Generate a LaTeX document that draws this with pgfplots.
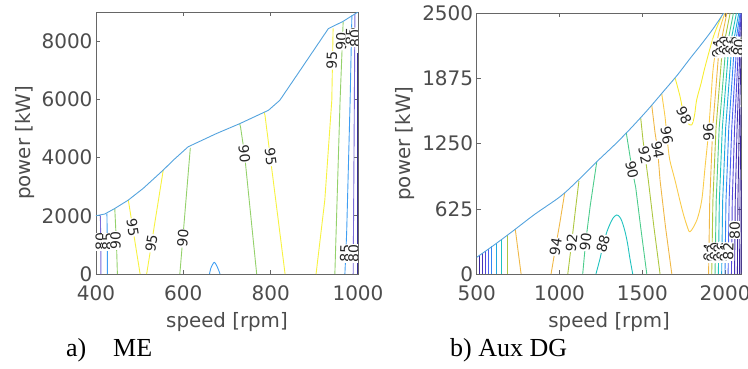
\documentclass[border=0pt]{standalone}
\usepackage{pgfplots}
\pgfplotsset{compat=1.18}
\usepackage{fontspec}
\setmainfont{DejaVu Sans}
\newfontfamily\capfont{Liberation Serif}
\definecolor{axgray}{rgb}{0.40,0.40,0.40}
\definecolor{txtgray}{rgb}{0.30,0.30,0.30}
\definecolor{bnd}{rgb}{0.33,0.64,0.87}
% left colours
\definecolor{c95}{rgb}{0.97,0.95,0.25}
\definecolor{c90}{rgb}{0.58,0.82,0.42}
\definecolor{c85}{rgb}{0.25,0.62,0.95}
\definecolor{c80}{rgb}{0.47,0.42,0.85}
\definecolor{c75}{rgb}{0.22,0.18,0.60}
% right colours
\definecolor{r98}{rgb}{0.97,0.93,0.20}
\definecolor{r96}{rgb}{0.98,0.80,0.30}
\definecolor{r94}{rgb}{0.94,0.72,0.28}
\definecolor{r92}{rgb}{0.68,0.78,0.25}
\definecolor{r90}{rgb}{0.30,0.80,0.55}
\definecolor{r88}{rgb}{0.12,0.76,0.75}
\definecolor{r86}{rgb}{0.12,0.66,0.88}
\definecolor{r84}{rgb}{0.20,0.52,0.96}
\definecolor{r82}{rgb}{0.30,0.38,0.95}
\definecolor{r80}{rgb}{0.32,0.28,0.85}
\definecolor{r78}{rgb}{0.28,0.20,0.72}
\definecolor{r76}{rgb}{0.24,0.15,0.62}
\pgfplotsset{
  mystyle/.style={
    scale only axis, anchor=south west,
    axis line style={draw=axgray, line width=0.8pt},
    tick style={draw=axgray, line width=0.6pt},
    tick align=inside, major tick length=4pt,
    ticklabel style={font=\fontsize{20}{22}\selectfont, text=txtgray},
    xticklabel style={yshift=-8pt},
    /pgf/number format/assume math mode=true,
    /pgf/number format/1000 sep={},
    label style={font=\fontsize{19.8}{22}\selectfont, text=txtgray},
    no markers,
    every axis plot/.append style={line width=0.9pt},
  },
}
\tikzset{clab/.style={font=\fontsize{14}{14}\selectfont, text=black!85, fill=white, inner sep=0.3pt}}
\begin{document}
\begin{tikzpicture}
\useasboundingbox (0pt,0pt) rectangle (748pt,368pt);
% ---------------- Left: ME ----------------
\begin{axis}[mystyle, at={(96pt,94pt)}, width=262pt, height=262pt,
  xmin=400, xmax=1000, ymin=0, ymax=9000,
  xtick={400,600,800,1000}, ytick={0,2000,4000,6000,8000},
  xlabel={speed [rpm]}, ylabel={power [kW]},
  xlabel style={at={(axis description cs:0.5,-0.206)}, anchor=base},
  ylabel style={at={(axis description cs:-0.271,0.5)}, anchor=center}]
\addplot[c80] coordinates {(411,0)(411,1000)(410,2010)};
\addplot[c85] coordinates {(426,0)(426,1000)(425,2070)};
\addplot[c90] coordinates {(449,0)(447,1000)(443,2250)};
\addplot[c95] coordinates {(501,0)(474,2540)};
\addplot[c95] coordinates {(516,0)(554,3570)};
\addplot[c90] coordinates {(592,0)(616,4330)};
\addplot[c85, smooth] coordinates {(660,0)(663,200)(671,400)(679,200)(684,0)};
\addplot[c90] coordinates {(729,5160)(731,5052)(740,4140)(768,0)};
\addplot[c95] coordinates {(785,5560)(787,5454)(833,0)};
\addplot[c95] coordinates {(904,0)(924,2540)(940,5970)(943,8440)};
\addplot[c90] coordinates {(947,0)(959,5970)(966,8660)};
\addplot[c85] coordinates {(970,0)(974,1400)(982,5970)(986,8880)};
\addplot[c80] coordinates {(989,0)(993,8940)};
\addplot[c75, line width=1.1pt] coordinates {(998.5,0)(998.5,7600)};
\addplot[bnd] coordinates {(400,2000)(420,2060)(443,2250)(474,2540)(508,2940)(554,3570)(577,3910)(611,4370)(676,4826)(730,5170)(795,5625)(821,5968)(867,6985)(932,8427)(966,8680)(1000,9000)};
\node[clab,rotate=90] at (axis cs:411,1100) {80};
\node[clab,rotate=90] at (axis cs:426,1100) {85};
\node[clab,rotate=90] at (axis cs:445,1150) {90};
\node[clab,rotate=-81] at (axis cs:484,1600) {95};
\node[clab,rotate=81] at (axis cs:527,1053) {95};
\node[clab,rotate=85] at (axis cs:599,1224) {90};
\node[clab,rotate=-84] at (axis cs:740,4140) {90};
\node[clab,rotate=-83] at (axis cs:800,4024) {95};
\node[clab,rotate=88] at (axis cs:940,7340) {95};
\node[clab,rotate=88] at (axis cs:962,8000) {90};
\node[clab,rotate=89] at (axis cs:984,8150) {85};
\node[clab,rotate=90] at (axis cs:994,8100) {80};
\node[clab,rotate=88] at (axis cs:971,700) {85};
\node[clab,rotate=90] at (axis cs:990,700) {80};
\end{axis}
% ---------------- Right: Aux DG ----------------
\begin{axis}[mystyle, at={(476.7pt,94pt)}, width=265pt, height=260.7pt,
  xmin=500, xmax=2100, ymin=0, ymax=2500,
  xtick={500,1000,1500,2000}, ytick={0,625,1250,1875,2500},
  xlabel={speed [rpm]}, ylabel={power [kW]},
  xlabel style={at={(axis description cs:0.5,-0.207)}, anchor=base},
  ylabel style={at={(axis description cs:-0.2706,0.5)}, anchor=center}]
\addplot[r76] coordinates {(516,0)(516,178)};
\addplot[r78] coordinates {(532,0)(532,197)};
\addplot[r80] coordinates {(552,0)(552,220)};
\addplot[r82] coordinates {(572,0)(572,243)};
\addplot[r84] coordinates {(592,0)(592,266)};
\addplot[r86] coordinates {(617,0)(617,294)};
\addplot[r88] coordinates {(647,0)(647,329)};
\addplot[r92] coordinates {(687,0)(687,375)};
\addplot[r94] coordinates {(768,0)(733,428)};
\addplot[r94] coordinates {(949,0)(977,262)(1003,500)(1031,775)};
\addplot[r92] coordinates {(1050,0)(1073,297)(1095,600)(1117,890)};
\addplot[r90] coordinates {(1140,0)(1158,310)(1185,650)(1225,1077)};
\addplot[r88, smooth] coordinates {(1220,0)(1245,150)(1263,278)(1285,400)(1305,480)(1325,540)(1345,566)(1362,550)(1377,505)(1395,410)(1410,300)(1425,150)(1442,0)};
\addplot[r90] coordinates {(1403,1355)(1426,1125)(1440,990)(1460,830)(1490,450)(1527,0)};
\addplot[r92] coordinates {(1490,1500)(1504,1285)(1516,1141)(1536,901)(1570,450)(1607,0)};
\addplot[r94] coordinates {(1557,1618)(1577,1352)(1592,1200)(1607,900)(1640,450)(1678,0)};
\addplot[r96, smooth] coordinates {(1617,1730)(1637,1508)(1650,1300)(1665,1100)(1697,901)(1740,620)(1770,460)(1789,406)(1830,520)(1859,710)(1879,1029)(1899,1349)(1915,1700)(1929,1988)(1960,2300)(1998,2500)};
\addplot[r98, smooth] coordinates {(1698,1880)(1728,1700)(1751,1520)(1772,1450)(1798,1429)(1815,1520)(1828,1669)(1855,1830)(1879,1988)(1930,2280)(1978,2470)};
\addplot[r94] coordinates {(1900,0)(1907,700)(1925,1400)(1960,2100)(2010,2500)};
\addplot[r92] coordinates {(1919,0)(1926,700)(1945,1400)(1980,2100)(2030,2500)};
\addplot[r90] coordinates {(1939,0)(1946,700)(1964,1400)(2000,2100)(2050,2500)};
\addplot[r88] coordinates {(1959,0)(1965,700)(1983,1400)(2018,2100)(2068,2500)};
\addplot[r86] coordinates {(1979,0)(1985,700)(2003,1400)(2036,2100)(2082,2500)};
\addplot[r84] coordinates {(1999,0)(2005,700)(2022,1400)(2052,2100)(2090,2500)};
\addplot[r82] coordinates {(2018,0)(2024,700)(2040,1400)(2066,2100)(2095,2500)};
\addplot[r80] coordinates {(2038,0)(2043,700)(2057,1400)(2078,2100)(2098,2500)};
\addplot[r78] coordinates {(2057,0)(2061,700)(2072,1400)(2088,2100)(2100,2450)};
\addplot[r76] coordinates {(2074,0)(2077,700)(2085,1400)(2096,2100)};
\addplot[r76] coordinates {(2087,0)(2090,800)(2096,1600)};
\addplot[r76] coordinates {(2096,0)(2099,900)};
\addplot[bnd, smooth] coordinates {(500,160)(600,272)(721,415)(850,572)(1003,741)(1100,880)(1225,1077)(1330,1235)(1426,1390)(1530,1570)(1627,1750)(1710,1905)(1789,2068)(1860,2210)(1929,2356)(1990,2500)};
\node[clab,rotate=81] at (axis cs:977,262) {94};
\node[clab,rotate=83] at (axis cs:1073,297) {92};
\node[clab,rotate=83] at (axis cs:1158,310) {90};
\node[clab,rotate=74] at (axis cs:1263,290) {88};
\node[clab,rotate=-78] at (axis cs:1437,1000) {90};
\node[clab,rotate=-78] at (axis cs:1516,1141) {92};
\node[clab,rotate=-80] at (axis cs:1593,1190) {94};
\node[clab,rotate=-80] at (axis cs:1648,1330) {96};
\node[clab,rotate=-65] at (axis cs:1752,1520) {98};
\node[clab,rotate=-88] at (axis cs:1900,1360) {96};
% bottom cluster
\node[clab,rotate=88] at (axis cs:1901,210) {94};
\node[clab,rotate=88] at (axis cs:1920,195) {92};
\node[clab,rotate=88] at (axis cs:1940,215) {90};
\node[clab,rotate=88] at (axis cs:1960,195) {88};
\node[clab,rotate=88] at (axis cs:1980,215) {86};
\node[clab,rotate=88] at (axis cs:2000,195) {84};
\node[clab,rotate=88] at (axis cs:2019,215) {82};
\node[clab,rotate=90] at (axis cs:2058,420) {80};
% top cluster
\node[clab,rotate=86] at (axis cs:1955,2160) {94};
\node[clab,rotate=86] at (axis cs:1975,2170) {92};
\node[clab,rotate=86] at (axis cs:1995,2190) {90};
\node[clab,rotate=86] at (axis cs:2015,2170) {88};
\node[clab,rotate=86] at (axis cs:2035,2190) {86};
\node[clab,rotate=86] at (axis cs:2053,2170) {84};
\node[clab,rotate=86] at (axis cs:2068,2190) {82};
\node[clab,rotate=86] at (axis cs:2082,2170) {80};
\end{axis}
% captions
\node[anchor=base west, inner sep=0pt, font=\capfont\fontsize{26}{26}\selectfont] at (66pt,12pt) {a)};
\node[anchor=base west, inner sep=0pt, font=\capfont\fontsize{26}{26}\selectfont] at (113pt,12pt) {ME};
\node[anchor=base west, inner sep=0pt, font=\capfont\fontsize{26}{26}\selectfont] at (450pt,12pt) {b) Aux DG};
\end{tikzpicture}
\end{document}
